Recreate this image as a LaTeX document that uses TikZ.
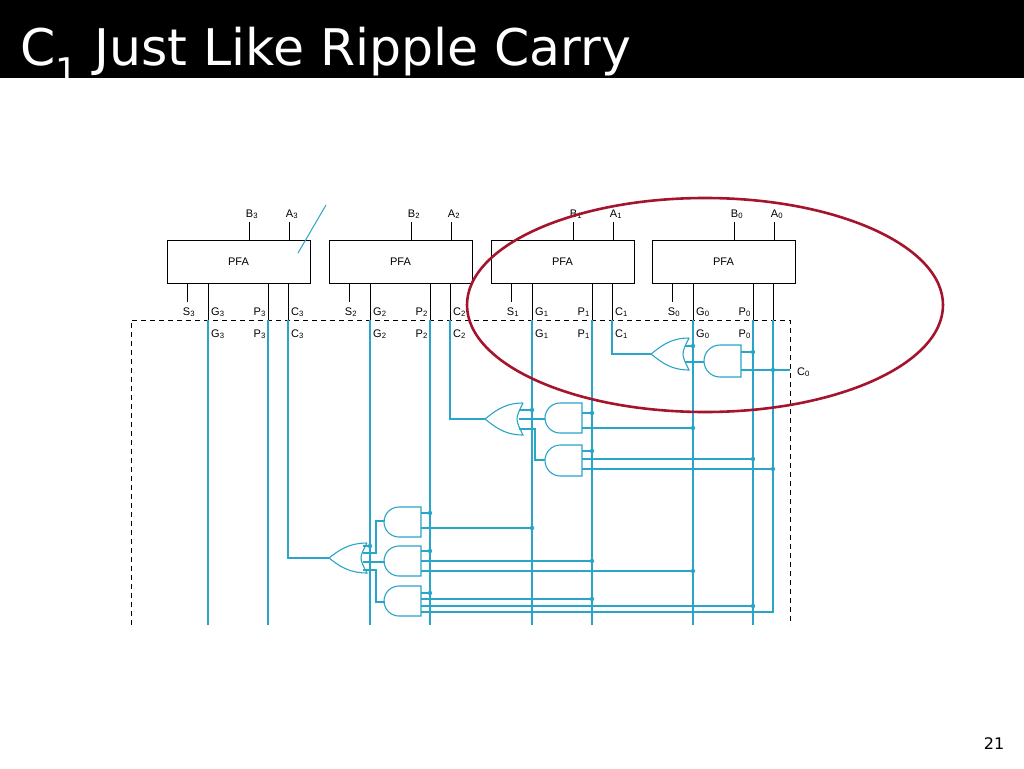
\documentclass[tikz,border=0pt]{standalone}
\usepackage{fontspec}
\setmainfont{DejaVu Sans}
\setsansfont{Liberation Sans}
\usepackage{tikz}

\definecolor{wirecol}{RGB}{40,165,200}
\definecolor{ringred}{RGB}{165,20,45}

\tikzset{
  wire/.style={draw=wirecol, line width=1.1pt},
  blk/.style={draw=black, line width=0.9pt},
  pfabox/.style={draw=black, line width=0.9pt, minimum width=143pt, minimum height=43pt, font=\sffamily\fontsize{11}{13}\selectfont},
  lbl/.style={inner sep=1pt, font=\sffamily\fontsize{11}{13}\selectfont},
}
% gate facing left: right x, top y, bottom y
\newcommand{\andgate}[3]{%
  \draw[wire] (#1,#2) -- ({#1-37+(#3-#2)/2},#2) arc[start angle=90,end angle=270,radius={((#3-#2)/2)*1pt}] -- (#1,#3) -- cycle;}
\newcommand{\orgate}[3]{%
  \draw[wire] (#1,#2) .. controls ({#1-20},#2) and ({#1-30},{(#2+#3)/2-6}) .. ({#1-38},{(#2+#3)/2})
    .. controls ({#1-30},{(#2+#3)/2+6}) and ({#1-20},#3) .. (#1,#3)
    .. controls ({#1-8},{(#2+#3)/2}) .. (#1,#2);}
\newcommand{\dotat}[2]{\fill[wirecol] (#1,#2) circle (2.2pt);}

\begin{document}
\begin{tikzpicture}[x=1pt,y=-1pt]
    \useasboundingbox (0,0) rectangle (1024,768);
    % title bar
    \fill[black] (0,0) rectangle (1024,78);
    \node[anchor=base west, text=white, inner sep=0pt, font=\fontsize{50.5}{50}\selectfont] (title) at (20,66) {C\textsubscript{1} Just Like Ripple Carry};
    \node[anchor=base, font=\fontsize{16}{16}\selectfont] (pagenum) at (994,749) {21};

    % PFA boxes with inputs and outputs
    \foreach \x/\i in {167/3,329/2,491/1,652/0} {
      \node[pfabox] (pfa\i) at (\x+71.5,261.5) {PFA};
      \draw[blk] (\x+82,222) -- (\x+82,240);
      \draw[blk] (\x+122,222) -- (\x+122,240);
      \node[lbl, anchor=base] (b\i) at (\x+85,217) {B\textsubscript{\i}};
      \node[lbl, anchor=base] (a\i) at (\x+125,217) {A\textsubscript{\i}};
      \draw[blk] (\x+20,283) -- (\x+20,302);
      \draw[blk] (\x+41,283) -- (\x+41,320);
      \draw[blk] (\x+101,283) -- (\x+101,320);
      \draw[blk] (\x+121,283) -- (\x+121,320);
      \node[lbl, anchor=base] (s\i) at (\x+22,315) {S\textsubscript{\i}};
      \node[lbl, anchor=base west] (g\i) at (\x+43,315) {G\textsubscript{\i}};
      \node[lbl, anchor=base east] (p\i) at (\x+100,315) {P\textsubscript{\i}};
    }
    \foreach \x/\i in {167/3,329/2,491/1} {
      \node[lbl, anchor=base west] (c\i) at (\x+123,315) {C\textsubscript{\i}};
      \node[lbl, anchor=base west] (gg\i) at (\x+43,337) {G\textsubscript{\i}};
      \node[lbl, anchor=base east] (pp\i) at (\x+100,337) {P\textsubscript{\i}};
      \node[lbl, anchor=base west] (cc\i) at (\x+123,337) {C\textsubscript{\i}};
    }
    \node[lbl, anchor=base west] (gg0) at (695,337) {G\textsubscript{0}};
    \node[lbl, anchor=base east] (pp0) at (752,337) {P\textsubscript{0}};
    \node[lbl, anchor=base west] (cin) at (796,375) {C\textsubscript{0}};

    % lookahead region
    \draw[black, dashed, line width=0.8pt, dash pattern=on 5pt off 4pt] (131,625) -- (131,320) -- (790,320) -- (790,625);

    % generate / propagate lines
    \foreach \xx in {208,268,370,430,532,592,693,753}
      \draw[wire] (\xx,320) -- (\xx,625);
    \draw[wire] (773,320) -- (773,612) -- (421,612);
    \draw[wire] (741,370) -- (790,370);
    \dotat{773}{370}

    % carry C1
    \orgate{689}{338}{370}
    \andgate{741}{345}{377}
    \draw[wire] (612,320) -- (612,354) -- (651,354);
    \draw[wire] (685,346) -- (693,346); \dotat{693}{346}
    \draw[wire] (685,362) -- (704,362);
    \draw[wire] (741,352) -- (753,352); \dotat{753}{352}
    \draw[wire] (741,370) -- (773,370);

    % carry C2
    \orgate{523}{403}{435}
    \andgate{582}{403}{433}
    \andgate{582}{445}{476}
    \draw[wire] (450,320) -- (450,419) -- (486,419);
    \draw[wire] (519,410) -- (532,410); \dotat{532}{410}
    \draw[wire] (519,419) -- (545,419);
    \draw[wire] (519,429) -- (535,429) -- (535,460) -- (545,460);
    \draw[wire] (582,413) -- (592,413); \dotat{592}{413}
    \draw[wire] (582,428) -- (693,428); \dotat{693}{428}
    \draw[wire] (582,451) -- (592,451); \dotat{592}{451}
    \draw[wire] (582,459) -- (753,459); \dotat{753}{459}
    \draw[wire] (582,469) -- (773,469); \dotat{773}{469}

    % carry C3
    \orgate{367}{543}{573}
    \andgate{421}{507}{537}
    \andgate{421}{546}{576}
    \andgate{421}{586}{616}
    \draw[wire] (288,320) -- (288,558) -- (330,558);
    \draw[wire] (363,546) -- (370,546); \dotat{370}{546}
    \draw[wire] (363,553) -- (376,553) -- (376,521) -- (385,521);
    \draw[wire] (363,562) -- (385,562);
    \draw[wire] (363,570) -- (376,570) -- (376,602) -- (385,602);
    \draw[wire] (421,513) -- (430,513); \dotat{430}{513}
    \draw[wire] (421,528) -- (532,528); \dotat{532}{528}
    \draw[wire] (421,551) -- (430,551); \dotat{430}{551}
    \draw[wire] (421,561) -- (592,561); \dotat{592}{561}
    \draw[wire] (421,571) -- (693,571); \dotat{693}{571}
    \draw[wire] (421,593) -- (430,593); \dotat{430}{593}
    \draw[wire] (421,599) -- (592,599); \dotat{592}{599}
    \draw[wire] (421,606) -- (753,606); \dotat{753}{606}

    % annotations
    \draw[wirecol, line width=1pt] (298,253) -- (326,205);
    \draw[ringred, line width=2.6pt] (705,305) ellipse [x radius=238pt, y radius=107pt];
\end{tikzpicture}
\end{document}
